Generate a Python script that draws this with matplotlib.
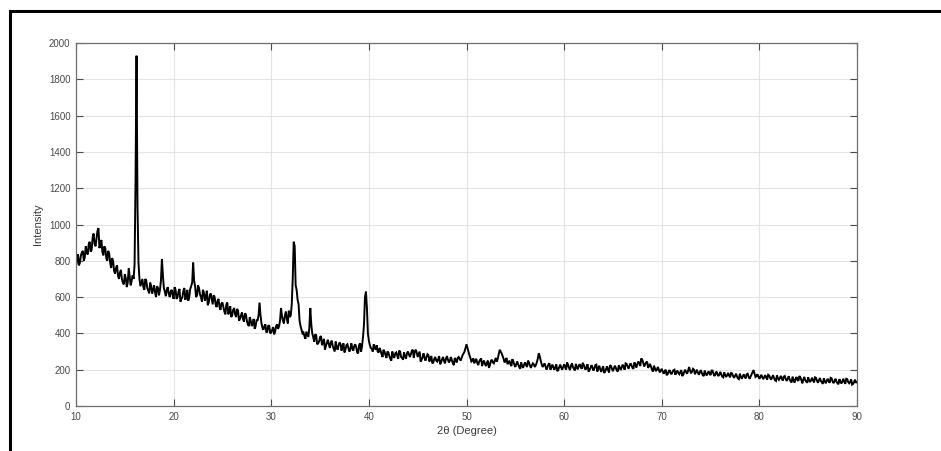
import numpy as np
import matplotlib
matplotlib.use("Agg")
import matplotlib.pyplot as plt
from matplotlib.patches import Rectangle

plt.rcParams['font.family'] = ['Liberation Sans', 'DejaVu Sans']

# 2-theta scan: start and step (degrees)
theta_start, theta_step = 10.0, 0.1

# Intensity at even steps (10.0, 10.2, ... 90.0)
even_10_20 = [770, 835, 790, 845, 800, 880, 835, 905, 860, 950,
              880, 965, 870, 915, 830, 870, 800, 840, 760, 800,
              730, 775, 700, 750, 680, 725, 655, 760, 665, 720,
              780, 1930, 790, 660, 700, 640, 690, 635, 680, 620,
              665, 600, 650, 640, 810, 650, 605, 655, 600, 640]
even_20_30 = [590, 640, 600, 645, 590, 635, 585, 640, 600, 660,
              790, 660, 610, 650, 600, 640, 580, 635, 570, 620,
              560, 600, 545, 590, 530, 570, 520, 560, 505, 550,
              500, 540, 490, 525, 480, 515, 465, 505, 450, 490,
              440, 480, 440, 470, 570, 455, 420, 450, 410, 440]
even_30_40 = [405, 435, 410, 450, 440, 540, 470, 500, 480, 525,
              500, 700, 880, 640, 560, 440, 400, 385, 410, 380,
              540, 400, 355, 390, 345, 380, 335, 370, 330, 365,
              320, 360, 315, 355, 310, 350, 305, 345, 310, 340,
              300, 345, 305, 340, 295, 335, 300, 380, 600, 540]
even_40_50 = [360, 320, 300, 320, 335, 295, 305, 270, 300, 265,
              295, 260, 300, 265, 295, 260, 300, 265, 295, 260,
              300, 270, 305, 265, 310, 270, 300, 255, 290, 250,
              285, 245, 275, 240, 270, 245, 275, 240, 270, 235,
              275, 240, 270, 235, 265, 240, 270, 250, 280, 300]
even_50_60 = [340, 300, 265, 250, 235, 260, 225, 255, 220, 250,
              220, 250, 225, 255, 235, 265, 260, 310, 290, 260,
              250, 230, 250, 220, 245, 215, 245, 215, 240, 210,
              240, 215, 240, 210, 235, 215, 240, 290, 250, 215,
              235, 200, 230, 200, 228, 200, 230, 198, 228, 200]
even_60_70 = [230, 200, 228, 198, 235, 205, 232, 202, 230, 205,
              228, 200, 230, 198, 225, 195, 225, 190, 222, 188,
              220, 190, 218, 185, 220, 192, 222, 195, 225, 198,
              228, 200, 232, 205, 235, 210, 240, 212, 245, 220,
              255, 218, 240, 210, 232, 200, 222, 192, 215, 185]
even_70_80 = [205, 178, 200, 175, 198, 175, 197, 172, 195, 175,
              198, 172, 200, 178, 215, 180, 205, 175, 200, 172,
              198, 170, 195, 168, 192, 170, 195, 165, 190, 165,
              188, 162, 185, 160, 182, 158, 180, 155, 178, 152,
              178, 150, 175, 152, 178, 150, 175, 198, 160, 175]
even_80_90 = [150, 172, 148, 170, 146, 168, 145, 170, 142, 168,
              144, 166, 140, 165, 138, 164, 136, 162, 128, 160,
              138, 158, 125, 160, 135, 158, 132, 156, 130, 155,
              128, 154, 130, 152, 125, 150, 128, 152, 126, 150,
              125, 148, 124, 150, 122, 148, 125, 146, 122, 145,
              130]

# Intensity at odd steps (10.1, 10.3, ... 89.9)
odd_10_20 = [805, 775, 830, 855, 820, 845, 890, 850, 925, 895,
             925, 980, 890, 850, 880, 815, 855, 790, 815, 745,
             760, 720, 735, 700, 670, 705, 680, 715, 690, 700,
             1250, 1100, 700, 680, 655, 700, 650, 620, 660, 640,
             625, 660, 610, 690, 720, 630, 640, 620, 630, 610]
odd_20_30 = [655, 590, 630, 575, 600, 650, 605, 580, 645, 680,
             690, 600, 665, 615, 575, 625, 600, 555, 610, 590,
             610, 560, 580, 545, 565, 545, 505, 570, 520, 490,
             530, 505, 535, 470, 500, 480, 510, 470, 440, 470,
             455, 425, 475, 500, 500, 430, 440, 405, 445, 400]
odd_30_40 = [420, 395, 440, 425, 470, 495, 455, 520, 455, 490,
             560, 905, 665, 585, 470, 420, 405, 370, 395, 430,
             450, 380, 395, 340, 355, 385, 350, 310, 350, 340,
             350, 330, 300, 325, 335, 340, 330, 295, 335, 320,
             310, 320, 330, 325, 290, 345, 330, 450, 630, 400]
odd_40_50 = [335, 315, 340, 310, 300, 320, 285, 310, 280, 300,
             275, 250, 275, 290, 280, 305, 270, 255, 275, 290,
             285, 285, 310, 300, 295, 285, 245, 270, 265, 270,
             280, 265, 235, 260, 250, 258, 230, 258, 248, 262,
             255, 250, 252, 225, 255, 265, 260, 265, 290, 320]
odd_50_60 = [320, 280, 245, 262, 250, 238, 245, 262, 242, 230,
             240, 210, 248, 240, 250, 245, 285, 300, 275, 240,
             265, 240, 230, 258, 228, 232, 228, 205, 222, 228,
             225, 250, 222, 225, 228, 225, 260, 275, 230, 225,
             218, 215, 235, 215, 212, 215, 192, 215, 212, 215]
odd_60_70 = [215, 240, 210, 222, 215, 195, 212, 222, 215, 238,
             210, 218, 190, 210, 212, 208, 228, 208, 202, 205,
             182, 205, 198, 225, 205, 208, 210, 190, 210, 215,
             215, 235, 218, 222, 225, 205, 228, 232, 235, 262,
             238, 230, 245, 220, 215, 190, 208, 200, 200, 195]
odd_70_80 = [190, 192, 170, 190, 182, 188, 200, 188, 182, 186,
             165, 188, 186, 195, 195, 190, 200, 186, 185, 184,
             183, 165, 180, 180, 178, 195, 178, 176, 175, 174,
             173, 158, 170, 170, 168, 182, 166, 165, 164, 148,
             162, 162, 160, 175, 160, 162, 185, 180, 165, 162]
odd_80_90 = [160, 158, 160, 157, 172, 155, 157, 154, 138, 152,
             154, 150, 162, 148, 150, 147, 130, 145, 147, 144,
             165, 143, 145, 142, 128, 141, 143, 140, 158, 139,
             141, 138, 122, 137, 139, 136, 155, 135, 137, 135,
             120, 134, 135, 133, 150, 132, 133, 118, 132, 130]

even_vals = (even_10_20 + even_20_30 + even_30_40 + even_40_50 +
             even_50_60 + even_60_70 + even_70_80 + even_80_90)
odd_vals = (odd_10_20 + odd_20_30 + odd_30_40 + odd_40_50 +
            odd_50_60 + odd_60_70 + odd_70_80 + odd_80_90)

intensity = np.empty(len(even_vals) + len(odd_vals))
intensity[0::2] = even_vals
intensity[1::2] = odd_vals
two_theta = np.round(theta_start + theta_step * np.arange(len(intensity)), 2)

x_ticks = [10, 20, 30, 40, 50, 60, 70, 80, 90]
y_ticks = [0, 200, 400, 600, 800, 1000, 1200, 1400, 1600, 1800, 2000]

W, H = 941, 451
fig = plt.figure(figsize=(W / 100, H / 100), dpi=100)
ax = fig.add_axes([76 / W, 1 - 406 / H, (857 - 76) / W, (406 - 43) / H])

ax.plot(two_theta, intensity, color='black', lw=1.4, solid_joinstyle='miter')

ax.set_xlim(10, 90)
ax.set_ylim(0, 2000)
ax.set_xticks(x_ticks)
ax.set_yticks(y_ticks)
ax.grid(True, color='#e3e3e3', lw=0.8)
ax.set_axisbelow(True)

tick_col = '#4a4a4a'
ax.tick_params(direction='in', length=5, width=0.8, colors=tick_col,
               labelsize=7, top=True, right=True, pad=4)
for s in ax.spines.values():
    s.set_color('#6e6e6e')
    s.set_linewidth(0.9)

ax.set_xlabel('2θ (Degree)', fontsize=8, color='#3a3a3a', labelpad=3)
ax.set_ylabel('Intensity', fontsize=8, color='#3a3a3a', labelpad=4)

# outer frame of the picture (left and top edges visible)
fig.patches.append(Rectangle((10 / W, -0.5), 2.0, 1.5 - 11 / H,
                             transform=fig.transFigure, fill=False,
                             lw=2.2, edgecolor='black'))

fig.savefig('out.png', dpi=100)
